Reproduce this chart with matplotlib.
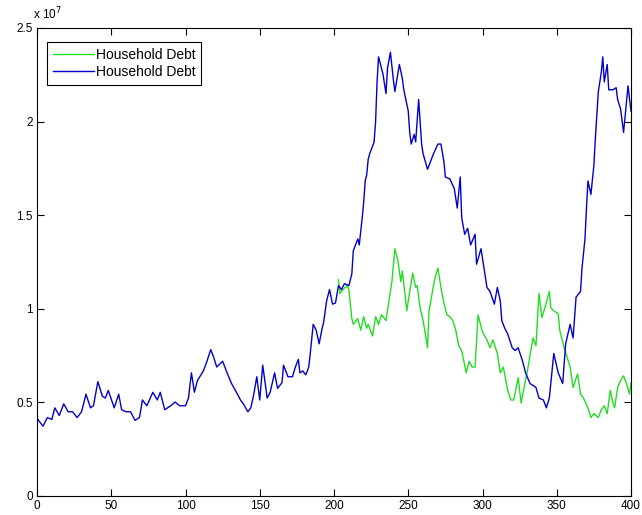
import matplotlib
matplotlib.use("Agg")
import matplotlib.pyplot as plt

# values, in units of 1e7
blue_x = [0, 1, 4, 7, 10, 12, 15, 18, 21, 24, 27, 30, 33, 36, 38, 41, 44, 46, 48, 52,
          55, 57, 60, 63, 66, 69, 71, 74, 78, 81, 83, 86, 90, 93, 96, 100, 102, 104, 106, 108,
          112, 114, 117, 119, 121, 125, 128, 131, 135, 137, 139, 142, 144, 146, 148, 150, 152, 155, 157, 160,
          162, 165, 166, 169, 172, 174, 176, 177, 179, 181, 183, 184, 186, 188, 190, 192, 193, 195, 197, 199,
          201, 203, 205, 207, 210, 212, 213, 216, 217, 219, 220, 221, 222, 223, 224, 227, 228, 229, 230, 231,
          233, 235, 236, 238, 240, 241, 244, 246, 247, 250, 251, 252, 254, 255, 257, 259, 260, 263, 265, 267,
          270, 272, 274, 275, 278, 281, 283, 285, 286, 288, 290, 292, 295, 296, 299, 301, 303, 305, 308, 310,
          312, 313, 315, 317, 320, 322, 324, 327, 329, 332, 336, 338, 341, 343, 345, 348, 351, 354, 356, 359,
          361, 363, 366, 367, 369, 370, 371, 373, 375, 376, 377, 378, 380, 381, 382, 384, 385, 388, 390, 391,
          393, 395, 397, 398, 400]
blue_y = [0.419, 0.404, 0.373, 0.419, 0.409, 0.471, 0.430, 0.492, 0.450, 0.450,
          0.419, 0.450, 0.544, 0.471, 0.482, 0.611, 0.533, 0.523, 0.564, 0.471,
          0.544, 0.461, 0.450, 0.450, 0.404, 0.419, 0.513, 0.482, 0.554, 0.513,
          0.554, 0.461, 0.482, 0.502, 0.482, 0.482, 0.523, 0.658, 0.554, 0.616,
          0.668, 0.709, 0.782, 0.741, 0.689, 0.720, 0.658, 0.601, 0.544, 0.513,
          0.492, 0.450, 0.471, 0.544, 0.637, 0.513, 0.699, 0.523, 0.554, 0.658,
          0.575, 0.606, 0.699, 0.637, 0.637, 0.689, 0.730, 0.658, 0.668, 0.647,
          0.689, 0.761, 0.917, 0.886, 0.813, 0.896, 0.927, 1.041, 1.103, 1.025,
          1.031, 1.124, 1.103, 1.134, 1.124, 1.186, 1.310, 1.373, 1.341, 1.486,
          1.569, 1.683, 1.714, 1.797, 1.828, 1.891, 1.999, 2.212, 2.346, 2.315,
          2.253, 2.150, 2.284, 2.370, 2.222, 2.160, 2.305, 2.232, 2.170, 2.056,
          1.942, 1.880, 1.932, 1.891, 2.118, 1.880, 1.828, 1.745, 1.787, 1.828,
          1.880, 1.880, 1.787, 1.704, 1.694, 1.642, 1.538, 1.704, 1.486, 1.398,
          1.430, 1.341, 1.398, 1.238, 1.321, 1.217, 1.114, 1.093, 1.025, 1.114,
          1.041, 0.937, 0.896, 0.865, 0.792, 0.777, 0.792, 0.720, 0.658, 0.601,
          0.580, 0.523, 0.513, 0.471, 0.523, 0.761, 0.658, 0.601, 0.813, 0.917,
          0.844, 1.062, 1.093, 1.217, 1.373, 1.538, 1.683, 1.611, 1.766, 1.911,
          2.036, 2.160, 2.263, 2.346, 2.212, 2.305, 2.170, 2.170, 2.181, 2.118,
          2.067, 1.942, 2.108, 2.191, 2.056]

green_x = [203, 204, 206, 209, 210, 212, 213, 216, 218, 220, 222, 223, 226, 228, 230, 232, 235, 237, 239, 241,
           243, 245, 246, 247, 249, 251, 253, 255, 256, 258, 260, 263, 264, 267, 268, 270, 272, 274, 276, 278,
           280, 282, 284, 286, 289, 291, 293, 295, 297, 300, 303, 305, 307, 310, 312, 314, 317, 319, 321, 324,
           326, 328, 330, 332, 334, 336, 338, 340, 342, 345, 346, 348, 351, 352, 355, 357, 359, 361, 364, 366,
           368, 371, 373, 375, 378, 380, 382, 384, 386, 388, 389, 391, 393, 395, 397, 399, 400]
green_y = [1.155, 1.082, 1.103, 1.124, 1.103, 0.948, 0.917, 0.948, 0.886, 0.958,
           0.896, 0.917, 0.855, 0.958, 0.917, 0.968, 0.937, 1.041, 1.145, 1.321,
           1.259, 1.145, 1.202, 1.134, 0.989, 1.093, 1.191, 1.114, 1.124, 1.005,
           0.937, 0.792, 0.989, 1.124, 1.165, 1.217, 1.114, 1.031, 0.968, 0.958,
           0.937, 0.886, 0.803, 0.777, 0.658, 0.720, 0.689, 0.689, 0.968, 0.875,
           0.834, 0.792, 0.834, 0.761, 0.658, 0.689, 0.564, 0.513, 0.513, 0.632,
           0.497, 0.580, 0.658, 0.751, 0.844, 0.803, 1.082, 0.953, 1.005, 1.093,
           1.005, 0.989, 0.974, 0.886, 0.792, 0.741, 0.689, 0.580, 0.652, 0.544,
           0.523, 0.471, 0.419, 0.440, 0.419, 0.461, 0.482, 0.440, 0.564, 0.492,
           0.471, 0.580, 0.616, 0.642, 0.601, 0.544, 0.606]

labels = ["Household Debt", "Household Debt"]
x_ticks = [0, 50, 100, 150, 200, 250, 300, 350, 400]
y_ticks = [0, 0.5, 1, 1.5, 2, 2.5]
y_tick_labels = ["0", "0.5", "1", "1.5", "2", "2.5"]

plt.rcParams['font.family'] = ['Liberation Sans', 'DejaVu Sans']
plt.rcParams['font.size'] = 8.5

fig = plt.figure(figsize=(6.42, 5.15), dpi=100)
ax = fig.add_axes([37 / 642, 19 / 515, 594 / 642, 468 / 515])

ax.plot(green_x, green_y, color='#22dd22', lw=1.0, label=labels[0])
ax.plot(blue_x, blue_y, color='#0000c8', lw=1.0, label=labels[1])

ax.set_xlim(0, 400)
ax.set_ylim(0, 2.5)
ax.set_xticks(x_ticks)
ax.set_yticks(y_ticks)
ax.set_yticklabels(y_tick_labels)
ax.tick_params(direction='in', top=True, right=True, length=5, width=0.8, pad=3)
for s in ax.spines.values():
    s.set_linewidth(0.8)

ax.text(-0.007, 1.012, r"x 10$^7$", transform=ax.transAxes, ha='left', va='bottom', fontsize=8.5)

leg = ax.legend(loc='upper left', bbox_to_anchor=(0.017, 0.970), borderaxespad=0,
                fancybox=False, edgecolor='black', framealpha=1, fontsize=10,
                handlelength=3.0, borderpad=0.4, labelspacing=0.25, handletextpad=0.1)
leg.get_frame().set_linewidth(0.8)

fig.savefig("out.png", dpi=100)
